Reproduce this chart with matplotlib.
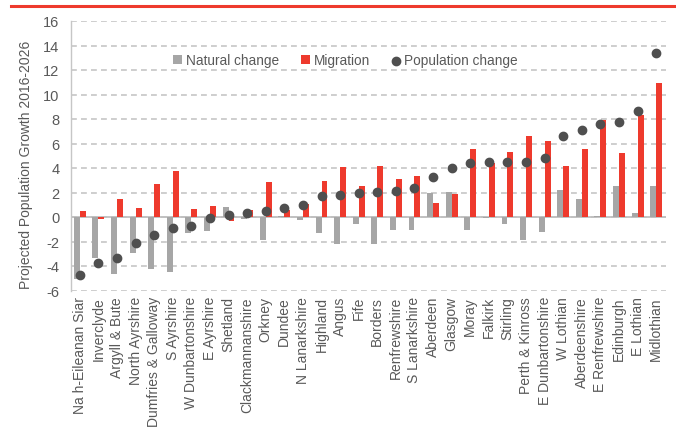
import matplotlib
matplotlib.use("Agg")
import matplotlib.pyplot as plt
from matplotlib.lines import Line2D
import numpy as np

plt.rcParams['font.family'] = ['Liberation Sans', 'DejaVu Sans']

areas = ["Na h-Eileanan Siar", "Inverclyde", "Argyll & Bute", "North Ayrshire",
         "Dumfries & Galloway", "S Ayrshire", "W Dunbartonshire", "E Ayrshire",
         "Shetland", "Clackmannanshire", "Orkney", "Dundee", "N Lanarkshire",
         "Highland", "Angus", "Fife", "Borders", "Renfrewshire", "S Lanarkshire",
         "Aberdeen", "Glasgow", "Moray", "Falkirk", "Stirling", "Perth & Kinross",
         "E Dunbartonshire", "W Lothian", "Aberdeenshire", "E Renfrewshire",
         "Edinburgh", "E Lothian", "Midlothian"]

natural_change = [-5.09, -3.35, -4.68, -2.94, -4.22, -4.49, -1.31, -1.14,
                  0.82, -0.19, -1.88, 0.10, -0.27, -1.28, -2.23, -0.60,
                  -2.23, -1.09, -1.03, 1.96, 2.01, -1.09, -0.08, -0.60,
                  -1.90, -1.20, 2.23, 1.44, 0.08, 2.50, 0.35, 2.50]

migration = [0.46, -0.15, 1.44, 0.73, 2.72, 3.73, 0.65, 0.93,
             -0.33, 0.57, 2.83, 0.57, 1.09, 2.94, 4.11, 2.56,
             4.19, 3.13, 3.35, 1.12, 1.88, 5.55, 4.38, 5.33,
             6.59, 6.18, 4.19, 5.58, 7.89, 5.25, 8.30, 10.91]

population_change = [-4.76, -3.78, -3.37, -2.12, -1.50, -0.90, -0.71, -0.11,
                     0.14, 0.30, 0.52, 0.73, 1.00, 1.71, 1.80, 1.96,
                     2.01, 2.12, 2.39, 3.24, 4.03, 4.41, 4.46, 4.52,
                     4.52, 4.79, 6.64, 7.13, 7.62, 7.78, 8.65, 13.39]

y_ticks = list(range(-6, 17, 2))

GREY = "#A6A6A6"
RED = "#EE3A2D"
DOT = "#4F4F4F"
TEXT = "#595959"
GRID = "#C6C6C6"

fig = plt.figure(figsize=(6.76, 4.35), dpi=100)
ax = fig.add_axes([70.5 / 676, 1 - 291.5 / 435, 595 / 676, 269.5 / 435])
ax.set_axisbelow(True)

x = np.arange(len(areas))
w = 0.32
h_nat = ax.bar(x - w / 2, natural_change, width=w, color=GREY, label="Natural change", zorder=2)
h_mig = ax.bar(x + w / 2, migration, width=w, color=RED, label="Migration", zorder=2)
h_pop = ax.scatter(x, population_change, s=36, color=DOT, label="Population change", zorder=3)

ax.set_xlim(-0.5, len(areas) - 0.5)
ax.set_ylim(-6, 16)
ax.set_yticks(y_ticks)
ax.set_yticklabels([str(t) for t in y_ticks], fontsize=10.5, color=TEXT)
ax.set_xticks(x)
ax.set_xticklabels(areas, rotation=90, fontsize=10, color=TEXT)
ax.tick_params(axis="both", length=0, pad=4)
ax.tick_params(axis="y", pad=8)

# dashed horizontal gridlines, solid zero line
ax.yaxis.grid(True, color=GRID, lw=1.2, ls=(0, (3.5, 2.5)))
ax.axhline(0, color="#C0C0C0", lw=1.3, zorder=1)

for side in ["top", "right", "bottom"]:
    ax.spines[side].set_visible(False)
ax.spines["left"].set_color(GRID)
ax.spines["left"].set_linewidth(1.0)

ax.set_ylabel("Projected Population Growth 2016-2026", fontsize=10, color=TEXT)
ax.yaxis.set_label_coords(-0.063, 0.469)

ax.legend(handles=[h_nat, h_mig, h_pop],
          labels=["Natural change", "Migration", "Population change"],
          loc="upper center", bbox_to_anchor=(0.462, 0.925), ncol=3, frameon=False,
          fontsize=9.8, handlelength=0.7, handleheight=0.7, handletextpad=0.25,
          columnspacing=1.6, labelcolor=TEXT, scatterpoints=1)

fig.add_artist(Line2D([11 / 676, 1.0], [1 - 6.5 / 435, 1 - 6.5 / 435],
                      color=RED, lw=2.2, transform=fig.transFigure))

fig.savefig("out.png", dpi=100)
